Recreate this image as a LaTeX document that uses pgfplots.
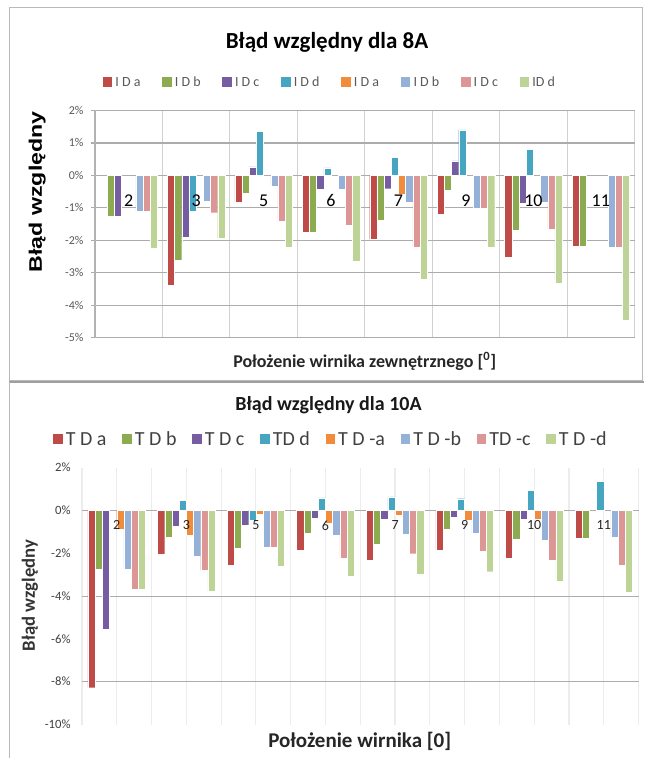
\documentclass[border=0pt]{standalone}
\usepackage{pgfplots}
\pgfplotsset{compat=1.18}
\usepackage{fontspec}
\setmainfont{Carlito}
\newfontfamily\arialf{Liberation Sans}
\definecolor{ca}{RGB}{190,75,72}
\definecolor{cb}{RGB}{140,170,80}
\definecolor{cc}{RGB}{118,92,160}
\definecolor{cd}{RGB}{70,165,192}
\definecolor{cma}{RGB}{240,140,60}
\definecolor{cmb}{RGB}{149,177,216}
\definecolor{cmc}{RGB}{220,150,150}
\definecolor{cmd}{RGB}{190,212,150}
\pgfplotsset{
  /pgfplots/layers/labelsontop/.define layer set={
    axis background,axis grid,axis ticks,axis lines,main,
    axis tick labels,axis descriptions,axis foreground
  }{/pgfplots/layers/standard},
  mybars/.style={
    set layers=labelsontop,
    every axis title shift=0pt,
    ybar=0pt, bar width=5.4pt,
    xmin=-0.5, xmax=7.5,
    axis x line*=middle, axis y line*=left,
    x axis line style={draw=none},
    hide obscured y ticks=false,
    xtick={0,...,7}, xticklabels={2,3,5,6,7,9,10,11},
    xtick style={draw=none}, minor x tick style={draw=none},
    minor tick length=0pt,
    xminorgrids,
    yticklabel={\pgfmathprintnumber{\tick}\%},
    /pgf/number format/assume math mode=true,
    every axis plot/.append style={draw=white, line width=0.3pt},
    legend image code/.code={\fill[##1] (0pt,-0.3em) rectangle (0.8em,0.5em);},
    legend cell align=left,
  }
}
\begin{document}
\begin{tikzpicture}
\path (0,0) rectangle (483pt,-568.5pt);
\draw[gray!55, line width=0.75pt] (7.125pt,-5.625pt) rectangle (482.25pt,-285.75pt);
\draw[gray!75, line width=2pt] (6.75pt,-286.8pt) -- (483pt,-286.8pt);
\draw[gray!55, line width=0.75pt] (7.125pt,-286.8pt) -- (7.125pt,-568.5pt);

% ---------------- 8A ----------------
\begin{axis}[mybars,
  at={(71.25pt,-253.5pt)}, anchor=south west,
  scale only axis, width=405pt, height=170.625pt,
  ymin=-5, ymax=2, ytick={-5,...,2},
  minor xtick={-0.5,0.5,...,7.5},
  ymajorgrids,
  major grid style={gray!65, line width=0.9pt},
  minor grid style={gray!35, line width=0.9pt},
  y axis line style={draw=gray!60, line width=0.9pt},
  tick align=outside, major tick length=3pt,
  ytick style={draw=gray!65, line width=0.9pt},
  yticklabel style={font=\fontsize{9}{10}\selectfont, text=black!65, xshift=-2pt},
  xticklabel style={font=\fontsize{13.5}{15}\selectfont, text=black, yshift=-8pt},
  title={Błąd względny dla 8A},
  title style={at={(0.43,1.301)}, anchor=center, font=\bfseries\fontsize{17.25}{20}\selectfont},
  xlabel={Położenie wirnika zewnętrznego [\textsuperscript{0}]},
  xlabel style={at={(axis description cs:0.5,-0.105)}, anchor=center, font=\bfseries\fontsize{13.5}{15}\selectfont, text=black!85},
  ylabel={\scalebox{1.28}[1]{\arialf\bfseries\fontsize{13.6}{15}\selectfont Błąd względny}},
  ylabel style={at={(axis description cs:-0.107,0.642)}, anchor=center},
  legend columns=8,
  legend style={at={(0.435,1.121)}, anchor=center, draw=none, fill=none,
    font=\fontsize{10.5}{11}\selectfont, text=black!65,
    /tikz/every even column/.append style={column sep=13.5pt}},
]
\addplot[fill=ca] coordinates {(1,-3.39) (2,-0.82) (3,-1.75) (4,-1.97) (5,-1.19) (6,-2.53) (7,-2.17)};
\addplot[fill=cb] coordinates {(0,-1.26) (1,-2.60) (2,-0.55) (3,-1.75) (4,-1.39) (5,-0.47) (6,-1.70) (7,-2.17)};
\addplot[fill=cc] coordinates {(0,-1.26) (1,-1.90) (2,0.26) (3,-0.44) (4,-0.41) (5,0.45) (6,-0.87)};
\addplot[fill=cd] coordinates {(1,-1.10) (2,1.36) (3,0.23) (4,0.56) (5,1.40) (6,0.80)};
\addplot[fill=cma] coordinates {(4,-0.59)};
\addplot[fill=cmb] coordinates {(0,-1.10) (1,-0.79) (2,-0.32) (3,-0.44) (4,-0.83) (5,-1.00) (6,-0.83) (7,-2.21)};
\addplot[fill=cmc] coordinates {(0,-1.10) (1,-1.15) (2,-1.42) (3,-1.54) (4,-2.21) (5,-1.00) (6,-1.65) (7,-2.21)};
\addplot[fill=cmd] coordinates {(0,-2.24) (1,-1.93) (2,-2.21) (3,-2.64) (4,-3.20) (5,-2.21) (6,-3.31) (7,-4.45)};
\legend{I D a, I D b, I D c, I D d, I D a, I D b, I D c, ID d}
\end{axis}

% ---------------- 10A ----------------
\begin{axis}[mybars,
  at={(61.5pt,-543.75pt)}, anchor=south west,
  scale only axis, width=417.75pt, height=192.75pt,
  ymin=-10, ymax=2, ytick={-10,-8,...,2},
  minor xtick={-0.5,0,...,7.5},
  extra y ticks={-8,-4,0}, extra y tick labels={},
  extra y tick style={grid=major, major grid style={gray!65, line width=0.9pt}, tick style={draw=none}},
  minor grid style={gray!15, line width=0.9pt},
  y axis line style={draw=none},
  ytick style={draw=none},
  yticklabel style={font=\fontsize{9.5}{11}\selectfont, text=black!75, xshift=-5pt},
  xticklabel style={font=\fontsize{10.5}{12}\selectfont, text=black!85},
  title={Błąd względny dla 10A},
  title style={at={(0.443,1.245)}, anchor=center, font=\bfseries\fontsize{15}{17}\selectfont, text=black!90},
  xlabel={Położenie wirnika [0]},
  xlabel style={at={(axis description cs:0.499,-0.066)}, anchor=center, font=\bfseries\fontsize{15.75}{18}\selectfont, text=black!85},
  ylabel={\bfseries Błąd względny},
  ylabel style={at={(axis description cs:-0.0934,0.502)}, anchor=center, font=\fontsize{14}{16}\selectfont, text=black!80},
  legend columns=8,
  legend style={at={(0.447,1.109)}, anchor=center, draw=none, fill=none,
    font=\fontsize{15}{17}\selectfont, text=black!75,
    /tikz/every even column/.append style={column sep=9pt}},
]
\addplot[fill=ca] coordinates {(0,-8.28) (1,-2.05) (2,-2.55) (3,-1.84) (4,-2.33) (5,-1.85) (6,-2.21) (7,-1.31)};
\addplot[fill=cb] coordinates {(0,-2.75) (1,-1.23) (2,-1.77) (3,-1.04) (4,-1.56) (5,-0.89) (6,-1.32) (7,-1.31)};
\addplot[fill=cc] coordinates {(0,-5.56) (1,-0.73) (2,-0.69) (3,-0.36) (4,-0.42) (5,-0.30) (6,-0.42)};
\addplot[fill=cd] coordinates {(1,0.47) (2,-0.45) (3,0.59) (4,0.64) (5,0.55) (6,0.95) (7,1.37)};
\addplot[fill=cma] coordinates {(0,-0.89) (1,-1.17) (2,-0.19) (3,-0.61) (4,-0.23) (5,-0.47) (6,-0.42)};
\addplot[fill=cmb] coordinates {(0,-2.74) (1,-2.13) (2,-1.71) (3,-1.17) (4,-1.12) (5,-1.07) (6,-1.39) (7,-1.25)};
\addplot[fill=cmc] coordinates {(0,-3.69) (1,-2.80) (2,-1.71) (3,-2.21) (4,-2.02) (5,-1.91) (6,-2.33) (7,-2.55)};
\addplot[fill=cmd] coordinates {(0,-3.69) (1,-3.77) (2,-2.61) (3,-3.07) (4,-2.96) (5,-2.86) (6,-3.30) (7,-3.84)};
\legend{T D a, T D b, T D c, TD d, T D -a, T D -b, TD -c, T D -d}
\end{axis}
\end{tikzpicture}
\end{document}
